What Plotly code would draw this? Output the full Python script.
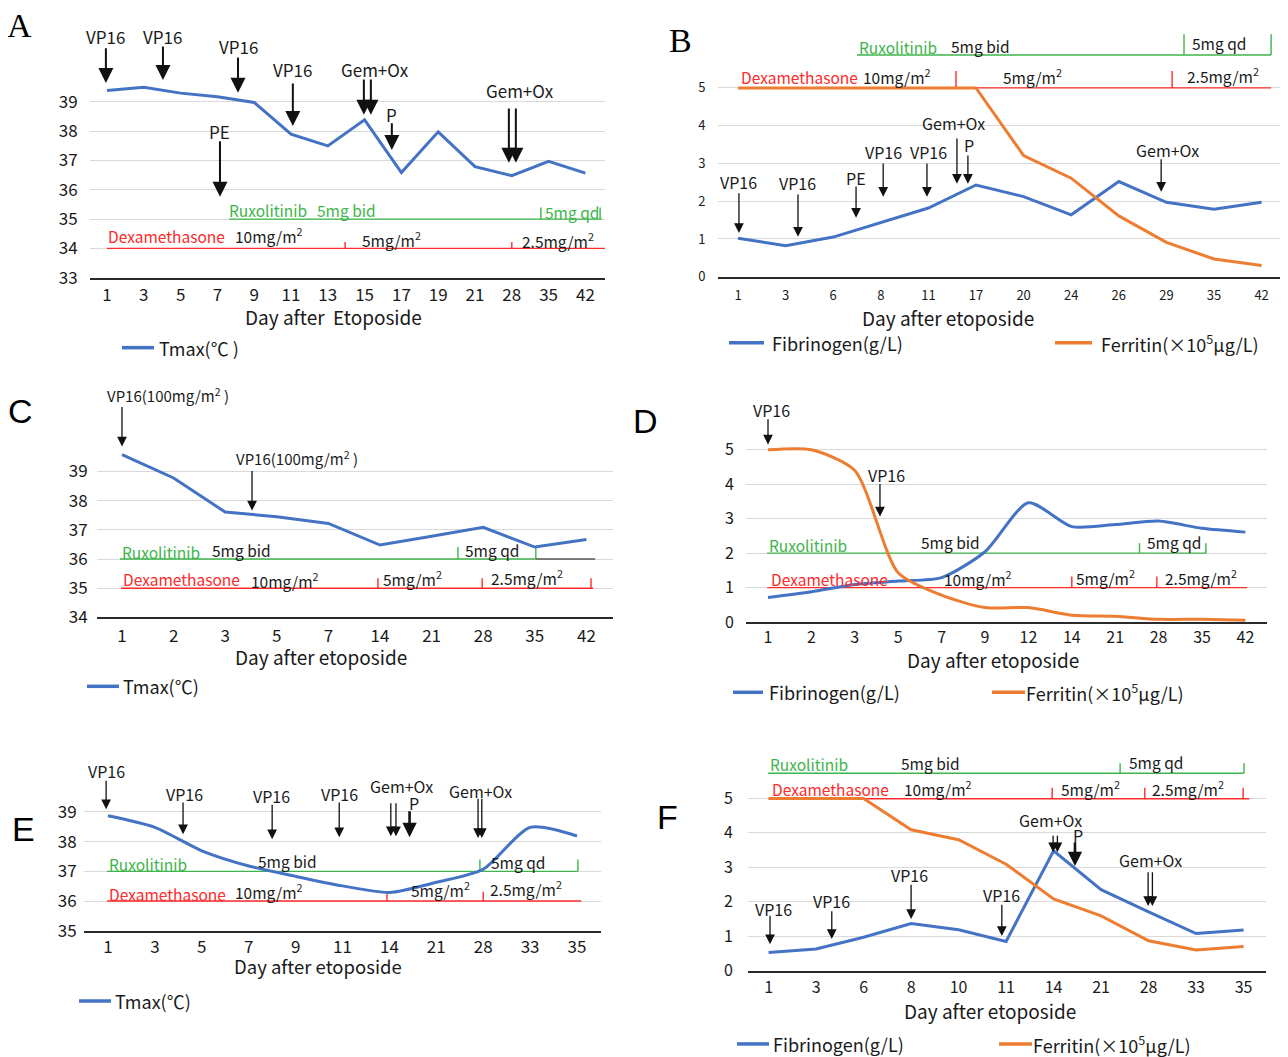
import plotly.graph_objects as go

W, H = 1288, 1057
# page offset / vertical squeeze observed in the viewer (body margin etc.)
OFFX, OFFY, SY = 8.0, 8.0, 0.9906
FONT = "Noto Sans CJK SC"
BLUE = "#4472C4"
ORANGE = "#ED7D31"
GREEN = "#3DB54A"
RED = "#FF2A2A"
TXT = "#1a1a1a"
GRID = "#d9d9d9"
ARROW = "#111111"

# ---------------- data ----------------
a_days = ["1", "3", "5", "7", "9", "11", "13", "15", "17", "19", "21", "28", "35", "42"]
a_tmax = [39.39, 39.50, 39.30, 39.18, 38.98, 37.90, 37.50, 38.39, 36.59, 37.98, 36.79, 36.48, 36.97, 36.57]

b_days = ["1", "3", "6", "8", "11", "17", "20", "24", "26", "29", "35", "42"]
b_fib = [1.02, 0.82, 1.05, 1.44, 1.82, 2.43, 2.12, 1.64, 2.52, 1.97, 1.79, 1.97]
b_fer = [5.0, 5.0, 5.0, 5.0, 5.0, 5.0, 3.21, 2.61, 1.61, 0.91, 0.47, 0.30]

c_days = ["1", "2", "3", "5", "7", "14", "21", "28", "35", "42"]
c_tmax = [39.58, 38.78, 37.61, 37.45, 37.22, 36.48, 36.78, 37.09, 36.41, 36.67]

d_days = ["1", "2", "3", "5", "7", "9", "12", "14", "21", "28", "35", "42"]
d_fib = [0.71, 0.88, 1.09, 1.19, 1.29, 2.04, 3.46, 2.77, 2.83, 2.93, 2.72, 2.61]
d_fer = [5.0, 5.0, 4.40, 1.43, 0.78, 0.42, 0.42, 0.20, 0.17, 0.08, 0.08, 0.05]

e_days = ["1", "3", "5", "7", "9", "11", "14", "21", "28", "33", "35"]
e_tmax = [38.87, 38.48, 37.69, 37.18, 36.83, 36.51, 36.29, 36.63, 37.07, 38.48, 38.19]

f_days = ["1", "3", "6", "8", "10", "11", "14", "21", "28", "33", "35"]
f_fib = [0.53, 0.63, 0.97, 1.37, 1.19, 0.85, 3.48, 2.35, 1.71, 1.08, 1.18]
f_fer = [5.0, 5.0, 5.0, 4.09, 3.80, 3.09, 2.08, 1.59, 0.87, 0.60, 0.70]

temp_ticks_a = [33, 34, 35, 36, 37, 38, 39]
temp_ticks_c = [34, 35, 36, 37, 38, 39]
temp_ticks_e = [35, 36, 37, 38, 39]
lab_ticks = [0, 1, 2, 3, 4, 5]

# events: (label, label_x, label_y, [arrow xs], tail_y, tip_y, thick)
a_events = [
    ("VP16", -0.03, 41.22, [-0.03], 40.88, 39.65, False),
    ("VP16", 1.52, 41.25, [1.52], 40.94, 39.75, False),
    ("VP16", 3.56, 40.88, [3.56], 40.57, 39.31, False),
    ("VP16", 5.05, 40.09, [5.05], 39.68, 38.18, False),
    ("Gem+Ox", 7.28, 40.09, [6.98, 7.17], 39.82, 38.56, False),
    ("P", 7.74, 38.56, [7.74], 38.32, 37.36, False),
    ("Gem+Ox", 11.22, 39.38, [10.92, 11.11], 38.83, 36.92, False),
    ("PE", 3.07, 37.98, [3.07], 37.71, 35.76, False),
]
b_events = [
    ("VP16", 0.02, 2.51, [0.02], 2.25, 1.16, False),
    ("VP16", 1.26, 2.49, [1.26], 2.22, 1.06, False),
    ("PE", 2.48, 2.62, [2.48], 2.43, 1.56, False),
    ("VP16", 3.05, 3.31, [3.05], 3.04, 2.12, False),
    ("VP16", 4.01, 3.31, [3.97], 3.04, 2.12, False),
    ("Gem+Ox", 4.52, 4.07, [4.60], 3.70, 2.46, False),
    ("P", 4.85, 3.49, [4.83], 3.25, 2.46, False),
    ("Gem+Ox", 9.03, 3.36, [8.89], 3.15, 2.25, False),
]
c_events = [
    ("VP16(100mg/m<sup>2</sup> )", 0.89, 41.64, [0.0], 41.26, 39.86, False),
    ("VP16(100mg/m<sup>2</sup> )", 3.39, 39.45, [2.52], 39.07, 37.66, False),
]
d_events = [
    ("VP16", 0.07, 6.14, [0.0], 5.93, 5.15, False),
    ("VP16", 2.72, 4.28, [2.58], 4.05, 3.06, False),
]
e_events = [
    ("VP16", -0.04, 40.37, [-0.04], 40.10, 39.09, False),
    ("VP16", 1.64, 39.60, [1.60], 39.37, 38.25, False),
    ("VP16", 3.48, 39.53, [3.50], 39.29, 38.08, False),
    ("VP16", 4.93, 39.60, [4.93], 39.37, 38.15, False),
    ("Gem+Ox", 6.25, 39.87, [6.03, 6.14], 39.34, 38.18, False),
    ("P", 6.53, 39.31, [6.43], 39.07, 38.15, True),
    ("Gem+Ox", 7.95, 39.71, [7.89, 7.97], 39.49, 38.12, False),
]
f_events = [
    ("VP16", 0.10, 1.79, [0.03], 1.64, 0.77, False),
    ("VP16", 1.33, 2.02, [1.33], 1.77, 0.92, False),
    ("VP16", 2.97, 2.77, [3.00], 2.54, 1.50, False),
    ("VP16", 4.91, 2.19, [4.91], 1.96, 1.01, False),
    ("Gem+Ox", 5.94, 4.37, [5.99, 6.08], 3.96, 3.44, False),
    ("P", 6.51, 3.94, [6.45], 3.77, 3.04, True),
    ("Gem+Ox", 8.05, 3.22, [7.99, 8.08], 2.90, 1.88, False),
]

# regimen bars: (color, y, x0, x1, tick xs, tick height)
a_regs = [(GREEN, 35, 3.32, 13.45, [11.79, 13.40], 0.40), (RED, 34, 0.0, 13.56, [6.47, 11.0], 0.22)]
b_regs = [(GREEN, 5.87, 2.5, 11.2, [9.37, 11.2], 0.55), (RED, 5.0, 0.02, 11.2, [4.58, 9.12], 0.45)]
c_regs = [(GREEN, 36, -0.04, 8.02, [6.51, 8.02], 0.41), ("#555555", 36, 8.02, 9.17, [], 0),
          (RED, 35, -0.02, 9.13, [4.96, 6.98, 9.09], 0.34)]
d_regs = [(GREEN, 2.0, -0.02, 10.09, [8.56, 10.09], 0.29), (RED, 1.0, -0.02, 11.04, [7.0, 8.96], 0.32)]
e_regs = [(GREEN, 37, -0.02, 10.02, [7.93, 10.02], 0.40), (RED, 36, -0.02, 10.09, [5.95, 8.0], 0.31)]
f_regs = [(GREEN, 5.73, -0.01, 10.01, [7.40, 10.01], 0.29), (RED, 4.99, 0.0, 10.12, [5.97, 7.92, 9.99], 0.32)]

# regimen labels: (text, x, y, color)
a_rlab = [("Ruxolitinib", 3.26, 35.31, GREEN), ("5mg bid", 5.65, 35.31, GREEN), ("5mg qd", 11.85, 35.26, GREEN),
          ("Dexamethasone", -0.03, 34.41, RED), ("10mg/m<sup>2</sup>", 3.42, 34.46, TXT),
          ("5mg/m<sup>2</sup>", 6.87, 34.31, TXT), ("2.5mg/m<sup>2</sup>", 11.22, 34.28, TXT)]
b_rlab = [("Ruxolitinib", 2.5, 6.08, GREEN), ("5mg bid", 4.43, 6.11, TXT), ("5mg qd", 9.5, 6.19, TXT),
          ("Dexamethasone", 0.02, 5.29, RED), ("10mg/m<sup>2</sup>", 2.58, 5.31, TXT),
          ("5mg/m<sup>2</sup>", 5.53, 5.31, TXT), ("2.5mg/m<sup>2</sup>", 9.39, 5.34, TXT)]
c_rlab = [("Ruxolitinib", -0.04, 36.24, GREEN), ("5mg bid", 1.71, 36.31, TXT), ("5mg qd", 6.61, 36.31, TXT),
          ("Dexamethasone", -0.02, 35.31, RED), ("10mg/m<sup>2</sup>", 2.46, 35.29, TXT),
          ("5mg/m<sup>2</sup>", 5.02, 35.34, TXT), ("2.5mg/m<sup>2</sup>", 7.11, 35.37, TXT)]
d_rlab = [("Ruxolitinib", -0.02, 2.23, GREEN), ("5mg bid", 3.48, 2.31, TXT), ("5mg qd", 8.69, 2.31, TXT),
          ("Dexamethasone", 0.02, 1.24, RED), ("10mg/m<sup>2</sup>", 4.01, 1.27, TXT),
          ("5mg/m<sup>2</sup>", 7.05, 1.30, TXT), ("2.5mg/m<sup>2</sup>", 9.10, 1.30, TXT)]
e_rlab = [("Ruxolitinib", -0.02, 37.23, GREEN), ("5mg bid", 3.16, 37.35, TXT), ("5mg qd", 8.12, 37.32, TXT),
          ("Dexamethasone", -0.02, 36.24, RED), ("10mg/m<sup>2</sup>", 2.67, 36.34, TXT),
          ("5mg/m<sup>2</sup>", 6.42, 36.40, TXT), ("2.5mg/m<sup>2</sup>", 8.10, 36.44, TXT)]
f_rlab = [("Ruxolitinib", -0.01, 5.99, GREEN), ("5mg bid", 2.74, 6.02, TXT), ("5mg qd", 7.55, 6.05, TXT),
          ("Dexamethasone", 0.03, 5.27, RED), ("10mg/m<sup>2</sup>", 2.80, 5.29, TXT),
          ("5mg/m<sup>2</sup>", 6.11, 5.30, TXT), ("2.5mg/m<sup>2</sup>", 8.03, 5.30, TXT)]

TMAX = "Tmax(℃)"
FIB = "Fibrinogen(g/L)"
FER = "Ferritin(×10<sup>5</sup>μg/L)"

# ---------------- layout geometry (target pixels) ----------------
# key: (axis suffix, x_left, x_right, x of first category, category step,
#       y_top, y_bottom, y base value, px per unit, tickfont, x ticklen, y ticklen)
geom = {
    "A": ("", 90, 605, 107, 36.8, 25, 278, 33, 29.33, 17, 1, 8),
    "B": ("2", 718, 1287, 738, 47.6, 30, 277, 0, 37.8, 13, 6, 9),
    "C": ("3", 97, 613, 122, 51.6, 385, 618, 34, 29.2, 17, 2, 5),
    "D": ("4", 746, 1267, 768, 43.4, 400, 622.7, 0, 34.5, 16, 0, 8),
    "E": ("5", 84, 601, 108, 46.9, 760, 931.7, 35, 29.75, 17, 0, 3),
    "F": ("6", 748, 1266, 768.6, 47.5, 755, 971.7, 0, 34.5, 16, 1, 11),
}


def PX(x):
    return (x - OFFX) / W


def PY(y):
    return 1 - ((y - OFFY) / SY) / H


fig = go.Figure()
layout = {}
annotations = []
shapes = []


def build(key, days, yticks, series, events, regs, rlabs, smooth=False, ev_font=16, big_arrow=False):
    suf, xl, xr, x0, sp, yt, yb, ybase, ppu, tf, xtl, ytl = geom[key]
    xn, yn = "x" + suf, "y" + suf
    layout["xaxis" + suf] = dict(
        domain=[PX(xl), min(1.0, PX(xr))], range=[(xl - x0) / sp, (xr - x0) / sp],
        tickvals=list(range(len(days))), ticktext=days, showgrid=False, zeroline=False,
        showline=True, linecolor="#2a2a2a", linewidth=1.5, ticks="outside", ticklen=xtl,
        tickcolor="rgba(0,0,0,0)", tickfont=dict(size=tf, color=TXT, family=FONT),
        anchor=yn, fixedrange=True)
    layout["yaxis" + suf] = dict(
        domain=[PY(yb), PY(yt)], range=[ybase, ybase + (yb - yt) / ppu],
        tickvals=yticks, showgrid=True, gridcolor=GRID, gridwidth=1, zeroline=False,
        showline=False, ticks="outside", ticklen=ytl, tickcolor="rgba(0,0,0,0)",
        tickfont=dict(size=tf, color=TXT, family=FONT), anchor=xn, fixedrange=True)
    for name, vals, color in series:
        fig.add_trace(go.Scatter(
            x=list(range(len(days))), y=vals, mode="lines", name=name,
            line=dict(color=color, width=3, shape="spline" if smooth else "linear", smoothing=0.7),
            xaxis=xn, yaxis=yn, showlegend=False, cliponaxis=False))
    for color, y, a, b, ticks, th in regs:
        shapes.append(dict(type="line", xref=xn, yref=yn, x0=a, x1=b, y0=y, y1=y,
                           line=dict(color=color, width=1.4), layer="between"))
        for t in ticks:
            shapes.append(dict(type="line", xref=xn, yref=yn, x0=t, x1=t, y0=y, y1=y + th,
                               line=dict(color=color, width=1.4), layer="between"))
    for text, x, y, color in rlabs:
        annotations.append(dict(text=text, x=x, y=y, xref=xn, yref=yn, xanchor="left", yanchor="middle",
                                showarrow=False, font=dict(size=15.5, color=color, family=FONT)))
    for label, lx, ly, axs, tail, tip, thick in events:
        annotations.append(dict(text=label, x=lx, y=ly, xref=xn, yref=yn, xanchor="center", yanchor="middle",
                                showarrow=False, font=dict(size=ev_font, color=TXT, family=FONT)))
        for axv in axs:
            if big_arrow:
                w, s = 2.0, 1.5
            elif thick:
                w, s = 2.6, 1.1
            else:
                w, s = 1.3, 1.5
            annotations.append(dict(text="", x=axv, y=tip, ax=axv, ay=tail, xref=xn, yref=yn,
                                    axref=xn, ayref=yn, showarrow=True, arrowhead=2, arrowsize=s,
                                    arrowwidth=w, arrowcolor=ARROW))


build("A", a_days, temp_ticks_a, [(TMAX, a_tmax, BLUE)], a_events, a_regs, a_rlab, ev_font=17, big_arrow=True)
build("B", b_days, lab_ticks, [(FIB, b_fib, BLUE), (FER, b_fer, ORANGE)], b_events, b_regs, b_rlab)
build("C", c_days, temp_ticks_c, [(TMAX, c_tmax, BLUE)], c_events, c_regs, c_rlab, ev_font=15)
build("D", d_days, lab_ticks, [(FIB, d_fib, BLUE), (FER, d_fer, ORANGE)], d_events, d_regs, d_rlab, smooth=True)
build("E", e_days, temp_ticks_e, [(TMAX, e_tmax, BLUE)], e_events, e_regs, e_rlab, smooth=True)
build("F", f_days, lab_ticks, [(FIB, f_fib, BLUE), (FER, f_fer, ORANGE)], f_events, f_regs, f_rlab)


def paper_text(text, px, py, size, anchor="center", family=FONT, color=TXT):
    annotations.append(dict(text=text, x=PX(px), y=PY(py), xref="paper", yref="paper",
                            xanchor=anchor, yanchor="middle", showarrow=False,
                            font=dict(size=size, color=color, family=family)))


def legend_item(text, color, lx0, lx1, py, tx):
    shapes.append(dict(type="line", xref="paper", yref="paper", x0=PX(lx0), x1=PX(lx1),
                       y0=PY(py), y1=PY(py), line=dict(color=color, width=3.5)))
    paper_text(text, tx, py, 18, anchor="left")


# axis titles
paper_text("Day after  Etoposide", 333, 317, 19)
paper_text("Day after etoposide", 948, 318, 19)
paper_text("Day after etoposide", 321, 657, 19)
paper_text("Day after etoposide", 993, 660, 19)
paper_text("Day after etoposide", 318, 967, 18.5)
paper_text("Day after etoposide", 990, 1012, 19)

# legends
legend_item("Tmax(℃ )", BLUE, 122, 154, 348, 157)
legend_item(FIB, BLUE, 729, 764, 343, 770)
legend_item(FER, ORANGE, 1055, 1092, 343, 1099)
legend_item(TMAX, BLUE, 87, 119, 687, 121)
legend_item(FIB, BLUE, 733, 763, 693, 767)
legend_item(FER, ORANGE, 992, 1025, 693, 1024)
legend_item(TMAX, BLUE, 79, 111, 1002, 113)
legend_item(FIB, BLUE, 737, 769, 1045, 771)
legend_item(FER, ORANGE, 999, 1032, 1045, 1031)

# panel letters
paper_text("A", 19, 26, 34, family="Liberation Serif", color="#000")
paper_text("B", 680, 41, 34, family="Liberation Serif", color="#000")
paper_text("C", 20, 411, 34, family="Liberation Sans", color="#000")
paper_text("D", 645, 421, 34, family="Liberation Sans", color="#000")
paper_text("E", 23, 830, 34, family="Liberation Sans", color="#000")
paper_text("F", 667, 818, 34, family="Liberation Sans", color="#000")

fig.update_layout(
    width=W, height=H, margin=dict(l=0, r=0, t=0, b=0),
    paper_bgcolor="white", plot_bgcolor="white",
    font=dict(family=FONT, color=TXT),
    annotations=annotations, shapes=shapes, showlegend=False,
    **layout)

fig.write_html("out.html")
